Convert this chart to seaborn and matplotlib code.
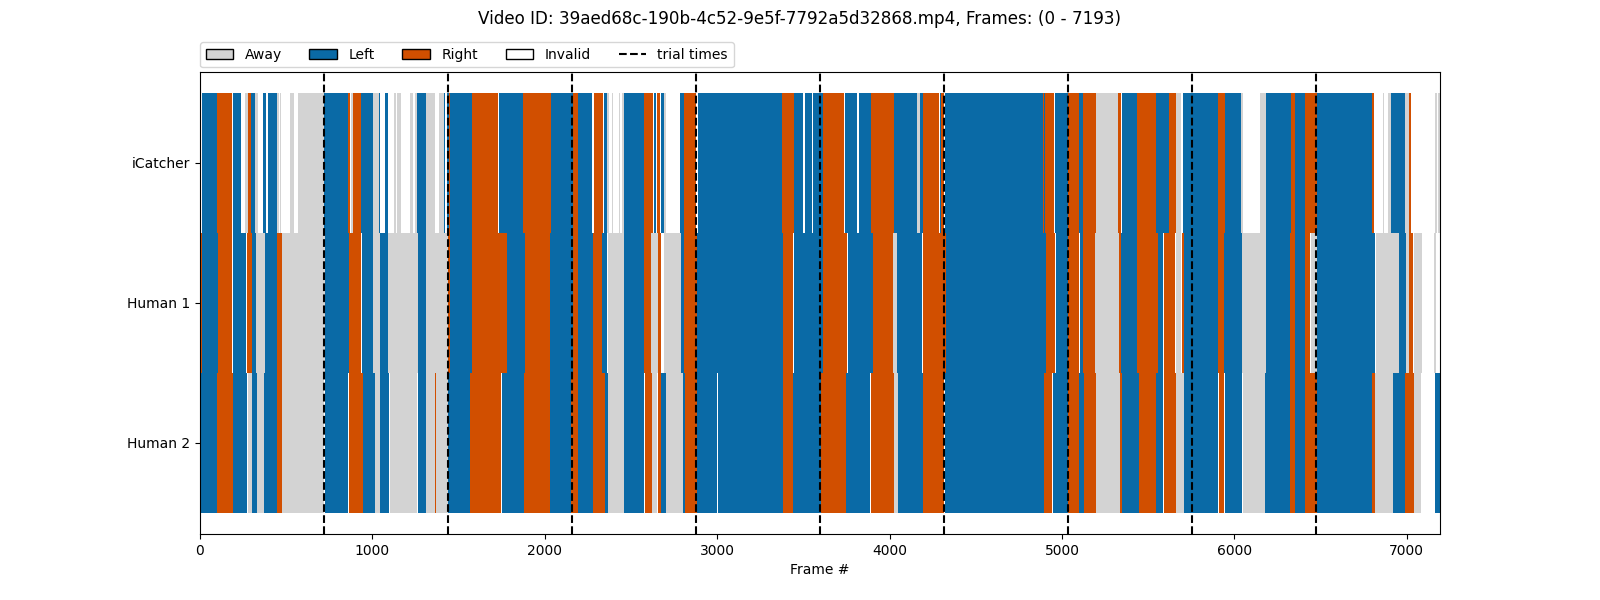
import matplotlib
matplotlib.use("Agg")
import matplotlib.pyplot as plt
from matplotlib.patches import Patch
import seaborn as sns

n_frames = 7193
video_id = "39aed68c-190b-4c52-9e5f-7792a5d32868.mp4"
coders = ["iCatcher", "Human 1", "Human 2"]
trial_times = [719, 1439, 2158, 2877, 3597, 4316, 5035, 5754, 6474]

# A away, L left, R right, I invalid. each run ends at the frame in *_ends
icatcher_ends = [12, 99, 188, 191, 238, 261, 278, 298, 319, 338,
                 365, 385, 392, 447, 458, 463, 468, 522, 545, 568,
                 722, 858, 872, 876, 887, 934, 1003, 1038, 1044, 1073,
                 1090, 1125, 1137, 1141, 1166, 1220, 1233, 1247, 1258, 1311,
                 1363, 1386, 1415, 1421, 1432, 1444, 1450, 1578, 1728, 1734,
                 1873, 2036, 2163, 2192, 2273, 2285, 2337, 2343, 2360, 2372,
                 2389, 2395, 2430, 2436, 2447, 2459, 2575, 2627, 2633, 2645,
                 2651, 2668, 2674, 2691, 2703, 2784, 2807, 2877, 2888, 3376,
                 3445, 3497, 3509, 3549, 3555, 3613, 3735, 3741, 3810, 3822,
                 3892, 4025, 4158, 4176, 4193, 4286, 4292, 4300, 4315, 4321,
                 4889, 4895, 4901, 4953, 4959, 5034, 5098, 5121, 5197, 5324,
                 5342, 5346, 5434, 5545, 5620, 5661, 5690, 5701, 5904, 5945,
                 6038, 6049, 6148, 6183, 6328, 6351, 6409, 6478, 6797, 6809,
                 6861, 6867, 6890, 6908, 6989, 7012, 7024, 7163, 7175, 7180,
                 7193]
icatcher_labels = list("ILRILIARLA"
                       "ILILAIAIAI"
                       "ALRIARLALI"
                       "LIAIAIAIAL"
                       "AIALILRLRI"
                       "LRLRLIRILA"
                       "IAIAIALRIL"
                       "IRILAILRIL"
                       "RLILILRILI"
                       "LRLALRILRI"
                       "LRLRILRLRA"
                       "RILRLRAILR"
                       "LAIALRLRLR"
                       "IAIALARIAI"
                       "A")

human1_ends = [10, 104, 188, 191, 269, 273, 302, 325, 377, 447,
               476, 725, 864, 934, 939, 1003, 1044, 1090, 1264, 1311,
               1438, 1450, 1578, 1781, 1885, 2030, 2163, 2192, 2279, 2331,
               2360, 2366, 2459, 2575, 2616, 2656, 2674, 2691, 2788, 2807,
               2883, 3381, 3439, 3445, 3613, 3752, 3758, 3903, 4019, 4042,
               4187, 4193, 4327, 4907, 4959, 4965, 5034, 5098, 5104, 5121,
               5191, 5330, 5342, 5434, 5556, 5585, 5591, 5655, 5661, 5690,
               5696, 5707, 5904, 5939, 6044, 6183, 6322, 6351, 6409, 6438,
               6444, 6478, 6815, 6821, 6954, 6995, 7012, 7035, 7041, 7088,
               7157, 7169, 7193]
human1_labels = list("RLRILIRLAL"
                     "RALRILALAL"
                     "ARLRLRLRLR"
                     "LIALRARIAL"
                     "RLRILRILRA"
                     "LIRLRILRIL"
                     "RARLRLIRIA"
                     "IRLRLALRLR"
                     "IALIALARIA"
                     "IAI")

human2_ends = [99, 191, 273, 278, 302, 331, 371, 447, 476, 719,
               725, 858, 864, 945, 1015, 1044, 1096, 1102, 1258, 1264,
               1311, 1361, 1369, 1438, 1566, 1746, 1752, 1879, 2030, 2152,
               2192, 2279, 2349, 2366, 2459, 2575, 2581, 2621, 2650, 2656,
               2674, 2703, 2801, 2813, 2883, 2999, 3004, 3381, 3439, 3602,
               3747, 3886, 3892, 4025, 4048, 4193, 4315, 4321, 4895, 4941,
               4947, 5034, 5098, 5127, 5197, 5336, 5347, 5446, 5545, 5585,
               5591, 5661, 5707, 5904, 5910, 5939, 5945, 6044, 6049, 6177,
               6322, 6351, 6409, 6478, 6797, 6815, 6919, 6989, 7041, 7082,
               7163, 7193]
human2_labels = list("LRLIALALRA"
                     "ILIRLALIAI"
                     "LARALRILRL"
                     "RLRLALIRAI"
                     "RLALRLILRL"
                     "RLIRALRILR"
                     "ILRLRARLRL"
                     "IRALIRILIA"
                     "LRLRLRALRA"
                     "IL")

label_names = {"A": "Away", "L": "Left", "R": "Right", "I": "Invalid"}
label_colors = {"A": "#D3D3D3", "L": "#0A6AA6", "R": "#D14F00", "I": "#FFFFFF"}

rows = [(coders[0], icatcher_ends, icatcher_labels),
        (coders[1], human1_ends, human1_labels),
        (coders[2], human2_ends, human2_labels)]

f, ax = plt.subplots(figsize=(16, 6), dpi=100)

for coder, ends, labels in rows:
    start = 0
    for end, label in zip(ends, labels):
        sns.barplot(x=[end - start], y=[coder], order=coders, orient="y", left=start, width=1,
                    color=label_colors[label], saturation=1, linewidth=0, errorbar=None, ax=ax)
        start = end

for t in trial_times:
    ax.axvline(t, color="k", linestyle="--", linewidth=1.5)

ax.set_xlim(0, n_frames)
ax.set_ylim(2.65, -0.65)
ax.set(xlabel="Frame #", ylabel="")

handles = [Patch(facecolor=label_colors[k], edgecolor="k", label=label_names[k]) for k in "ALRI"]
handles.append(plt.Line2D([], [], color="k", linestyle="--", label="trial times"))
ax.legend(handles=handles, loc="lower left", bbox_to_anchor=(0, 1.01), borderaxespad=0, ncol=5)

f.suptitle(f"Video ID: {video_id}, Frames: (0 - {n_frames})", y=0.983, fontsize=12.1)
plt.savefig("out.png")
